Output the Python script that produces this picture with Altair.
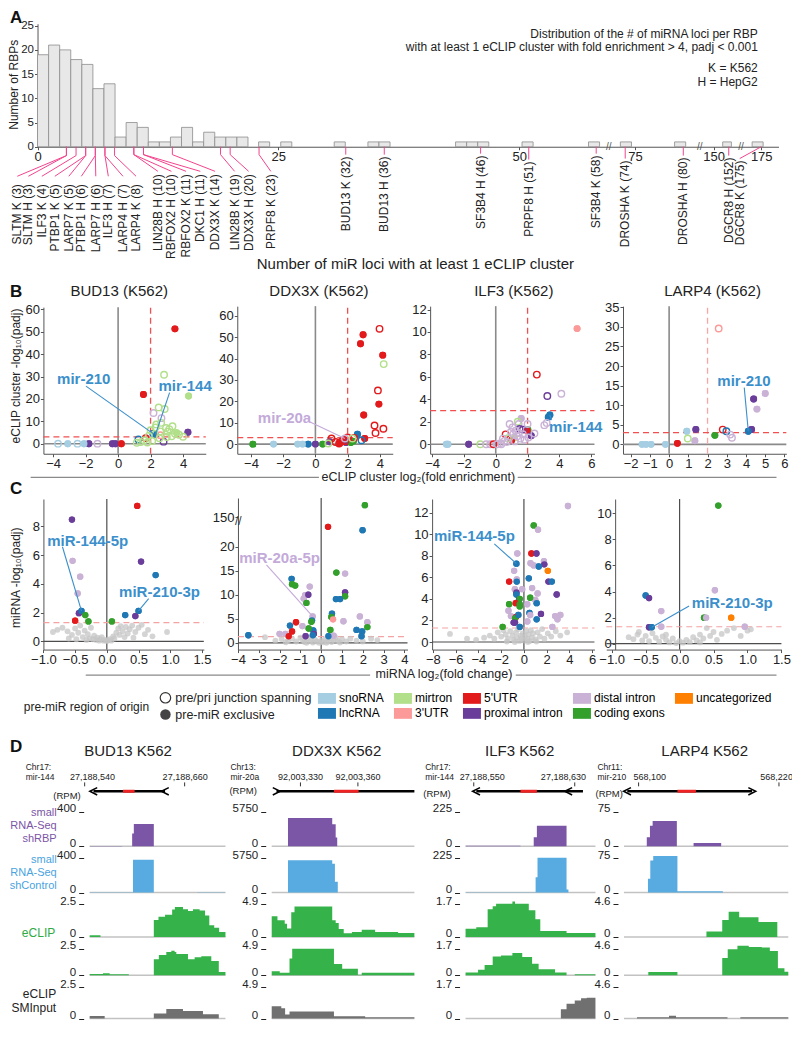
import altair as alt
import pandas as pd

FONT = "Liberation Sans"
W, H = 784, 1016
S = 0.984


def X(x):
    return round((x - 4) * S, 2)


def Y(y):
    return round((y - 4) * S, 2)


ONE = pd.DataFrame({"k": [0]})

# ---------------- categories (pre-miR region of origin)
CAT_CODES = ["sno", "mir", "5u", "dis", "unc", "lnc", "3u", "pro", "cod"]
CAT_NAMES = ["snoRNA", "mirtron", "5'UTR", "distal intron", "uncategorized",
             "lncRNA", "3'UTR", "proximal intron", "coding exons"]
CAT_COLORS = ["#a6cee3", "#b2df8a", "#e31a1c", "#cab2d6", "#ff7f00",
              "#1f78b4", "#fb9a99", "#6a3d9a", "#33a02c"]
CODE2NAME = dict(zip(CAT_CODES, CAT_NAMES))
CSCALE = alt.Scale(domain=CAT_NAMES, range=CAT_COLORS)

# ---------------- panel A data
a_bar_left = [0, 1.15, 2.3, 3.45, 4.6, 5.75, 6.9, 8.05, 9.2, 10.35, 11.5, 12.65, 13.8,
              14.95, 16.1, 17.25, 18.4, 19.55, 20.7, 22.95, 25.25, 30.8, 34.3, 35.45,
              43.4, 44.55, 45.7, 50.3, 57.2, 73.5, 79.1, 151.2, 174.05]
a_bar_count = [19, 21, 20, 18, 17, 12, 13, 2, 5, 4, 1, 1, 2, 4, 1, 3, 2, 2, 2,
               1, 1, 1, 1, 1, 1, 1, 1, 1, 1, 1, 1, 1, 1]
BIN_W = 1.15
a_break_domain = [0, 59.2, 72.4, 81.6, 148.3, 153.5, 173.0, 176.8]
a_break_px = [34, 613.5, 615.5, 706, 708, 748, 750, 787]
a_tick_values = [0, 25, 50, 75, 150, 175]
a_labels = ["SLTM K (3)", "SLTM H (3)", "ILF3 K (4)", "PTBP1 K (5)", "LARP7 K (5)",
            "PTBP1 H (6)", "LARP7 H (6)", "ILF3 H (7)", "LARP4 H (7)", "LARP4 K (8)",
            "LIN28B H (10)", "RBFOX2 H (10)", "RBFOX2 K (11)", "DKC1 H (11)",
            "DDX3X K (14)", "LIN28B K (19)", "DDX3X H (20)", "PRPF8 K (23)",
            "BUD13 K (32)", "BUD13 H (36)", "SF3B4 H (46)", "PRPF8 H (51)",
            "SF3B4 K (58)", "DROSHA K (74)", "DROSHA H (80)", "DGCR8 H (152)",
            "DGCR8 K (175)"]
a_label_value = [3, 3, 4, 5, 5, 6, 6, 7, 7, 8, 10, 10, 11, 11, 14, 19, 20, 23, 32, 36,
                 46, 51, 58, 74, 80, 152, 175]
a_label_slot = [-2.1, -0.95, 0.45, 1.8, 3.25, 4.55, 6.05, 7.35, 8.87, 10.23, 12.5,
                13.9, 15.42, 16.9, 18.43, 20.46, 21.92, 24.22, 32, 36, 46, 51, 58, 74,
                80, 152, 153.45]
a_label_kink = [9] * 10 + [8] * 8 + [8, 8] + [7, 13, 7, 12, 9, 9, 0]
a_label_end = [30] * 10 + [25] * 8 + [8, 8] + [7, 13, 7, 12, 9, 9, 12]
a_label_top = [38] * 10 + [28] * 8 + [10, 10] + [9, 15, 9, 14, 11, 11, 14]

# ---------------- panel B data: (log2 FE, -log10 padj, region, open=junction spanning)
b1_pts = [(3.5, 51.3, "5u", 0), (1.56, 22.0, "5u", 0), (4.34, 21.3, "mir", 0),
          (4.3, 5.1, "pro", 0), (3.6, 4.9, "mir", 0), (-1.8, 0, "pro", 0),
          (-0.16, 0, "pro", 0), (0.2, 0, "5u", 0), (-0.35, 0, "pro", 0),
          (-3.7, 0, "sno", 1), (-3.1, 0, "sno", 0), (-2.5, 0, "sno", 1), (-2.1, 0, "sno", 0),
          (-1.27, 0, "dis", 1), (2.3, 4.1, "lnc", 0), (2.16, 4.5, "lnc", 1),
          (1.25, 1.9, "lnc", 1), (2.8, 0.9, "pro", 1), (2.18, 13.7, "dis", 1),
          (2.67, 11.4, "dis", 1), (1.7, 2.5, "5u", 1), (2.6, 3.8, "3u", 1),
          (2.83, 30.8, "mir", 1), (2.5, 16.2, "mir", 1), (2.87, 15.5, "mir", 1),
          (2.65, 9.3, "mir", 1), (2.35, 8.6, "mir", 1), (2.95, 7.0, "mir", 1),
          (3.15, 6.5, "mir", 1), (3.35, 7.8, "mir", 1), (3.5, 4.6, "mir", 1),
          (3.75, 4.0, "mir", 1), (4.0, 3.1, "mir", 1), (3.05, 5.3, "mir", 1),
          (2.6, 5.5, "mir", 1), (1.9, 3.6, "mir", 1), (1.6, 1.5, "mir", 1),
          (1.4, 0.7, "mir", 1), (1.8, 0.5, "mir", 1), (2.1, 1.2, "mir", 1),
          (2.55, 2.4, "mir", 1), (3.0, 3.0, "mir", 1), (3.3, 3.3, "mir", 1),
          (1.15, 0.4, "mir", 1), (2.3, 7.2, "mir", 1), (2.0, 6.0, "mir", 1)]
b2_pts = [(2.96, 51.1, "5u", 0), (2.8, 46.9, "5u", 0), (4.18, 41.6, "5u", 0),
          (3.94, 18.7, "5u", 0), (3.0, 13.6, "5u", 0), (3.06, 2.6, "5u", 0),
          (1.8, 2.1, "5u", 0), (2.2, 1.4, "5u", 0), (1.5, 0.5, "5u", 0),
          (3.98, 53.9, "5u", 1), (3.88, 25.1, "5u", 1), (3.67, 8.7, "5u", 1),
          (4.22, 7.2, "5u", 1), (3.73, 5.2, "5u", 1), (1.0, 2.6, "5u", 1),
          (2.0, 3.1, "5u", 1), (1.6, 1.1, "5u", 1), (1.47, 0.3, "5u", 1),
          (1.85, 1.4, "5u", 1), (1.25, 1.0, "5u", 1), (2.4, 2.9, "5u", 1),
          (4.24, 37.4, "mir", 1), (2.3, 2.6, "mir", 1), (0.8, 0.3, "mir", 1),
          (2.61, 4.6, "lnc", 0), (-0.45, 0, "lnc", 0), (2.86, 1.8, "lnc", 1),
          (0.88, 1.1, "pro", 0), (1.9, 0.8, "pro", 0), (0.0, 0, "pro", 0),
          (1.83, 2.6, "dis", 1), (2.2, 0.8, "cod", 0), (-3.88, 0, "cod", 0),
          (0.45, 0, "cod", 0), (2.35, 1.3, "cod", 0), (-2.6, 0, "sno", 0),
          (-1.1, 0, "sno", 0), (-0.8, 0, "sno", 0)]
b3_pts = [(5.11, 10.3, "3u", 0), (2.58, 6.2, "5u", 1), (3.24, 4.3, "pro", 1),
          (4.12, 4.5, "dis", 1), (3.4, 2.6, "lnc", 0), (3.3, 2.4, "lnc", 0),
          (3.05, 1.7, "dis", 1), (3.2, 1.9, "dis", 1), (1.6, 2.3, "dis", 0),
          (1.38, 2.0, "mir", 1), (1.44, 1.8, "dis", 1), (0.87, 1.8, "dis", 1),
          (1.71, 1.3, "pro", 1), (1.5, 1.35, "pro", 1), (2.02, 1.26, "cod", 0),
          (1.98, 1.2, "5u", 0), (2.0, 1.8, "dis", 1), (2.23, 0.76, "pro", 0),
          (2.43, 0.95, "dis", 1), (2.05, 0.6, "dis", 1), (0.62, 0.88, "5u", 1),
          (0.76, 0.53, "mir", 1), (1.18, 0.58, "mir", 0), (1.0, 0.35, "5u", 0),
          (0.95, 1.1, "dis", 1), (1.1, 0.9, "dis", 1), (1.25, 1.2, "dis", 1),
          (1.35, 0.7, "dis", 1), (1.55, 0.5, "dis", 1), (1.7, 0.9, "dis", 1),
          (0.55, 0.3, "dis", 1), (0.3, 0.1, "dis", 1), (0.7, 0.2, "dis", 1),
          (1.2, 0.25, "dis", 1), (1.45, 1.0, "dis", 1), (1.8, 0.4, "dis", 1),
          (0.45, 0.5, "dis", 1), (1.05, 1.5, "dis", 1), (-3.1, 0, "sno", 0),
          (-3.0, 0, "sno", 0), (-1.7, 0, "pro", 0), (-0.97, 0, "mir", 1),
          (-0.6, 0, "dis", 1), (-0.35, 0, "dis", 1), (-0.14, 0, "5u", 1),
          (0.1, 0, "dis", 1), (0.35, 0, "dis", 1)]
b4_pts = [(2.58, 29.6, "3u", 1), (5.0, 13.0, "dis", 0), (4.4, 11.6, "pro", 0),
          (4.57, 9.0, "dis", 0), (4.29, 3.8, "pro", 0), (4.12, 3.35, "lnc", 0),
          (2.79, 3.77, "5u", 1), (2.98, 3.35, "lnc", 1), (3.18, 2.5, "dis", 1),
          (3.27, 1.7, "dis", 1), (1.39, 3.8, "pro", 0), (0.92, 3.35, "sno", 0),
          (0.97, 1.5, "mir", 1), (1.34, 0.9, "dis", 0), (2.38, 2.3, "cod", 0),
          (0.43, 0.25, "5u", 0), (-1.41, 0, "sno", 0), (-1.2, 0, "sno", 0),
          (-0.94, 0, "sno", 0), (-0.19, 0, "sno", 0)]

# ---------------- panel C data: (log2 FC, -log10 padj, region) significant; gray = not
c1_pts = [(-0.55, 8.47, "pro"), (0.48, 9.42, "5u"), (-0.54, 5.6, "dis"), (-0.42, 4.5, "dis"),
          (-0.46, 3.33, "dis"), (-0.44, 1.96, "pro"), (-0.40, 2.12, "lnc"),
          (-0.34, 1.83, "cod"), (-0.29, 1.39, "cod"), (-0.50, 1.44, "5u"),
          (0.54, 5.55, "pro"), (0.77, 4.61, "lnc"), (0.50, 2.12, "lnc"),
          (0.29, 1.83, "lnc"), (0.45, 1.76, "pro"), (0.08, 1.39, "cod")]
c1_gray = [(-0.85, 0.65), (-0.78, 0.8), (-0.7, 0.95), (-0.62, 0.7), (-0.55, 0.45),
           (-0.5, 0.9), (-0.45, 0.6), (-0.42, 1.1), (-0.38, 0.3), (-0.35, 0.75),
           (-0.3, 0.5), (-0.27, 0.2), (-0.25, 0.95), (-0.22, 0.15), (-0.2, 0.4),
           (-0.17, 0.1), (-0.15, 0.25), (-0.12, 0.05), (-0.1, 0.15), (-0.08, 0.3),
           (-0.05, 0.05), (-0.03, 0.1), (0.0, 0.02), (0.02, 0.08), (0.05, 0.15),
           (0.07, 0.05), (0.1, 0.35), (0.12, 0.2), (0.15, 0.6), (0.18, 0.9),
           (0.2, 0.45), (0.22, 1.05), (0.25, 0.7), (0.28, 0.3), (0.3, 1.0),
           (0.33, 0.55), (0.36, 0.85), (0.4, 1.1), (0.42, 0.25), (0.45, 0.65),
           (0.5, 0.95), (0.55, 1.15), (0.6, 0.5), (0.65, 0.8), (0.72, 0.35),
           (0.95, 0.65), (-0.6, 0.2), (-0.48, 0.15), (-0.32, 0.1)]
c2_pts = [(0.33, 24.1, "5u"), (1.99, 23.4, "lnc"), (2.1, 155, "cod"), (-1.42, 13.3, "lnc"),
          (-1.4, 12.2, "cod"), (-1.25, 11.9, "cod"), (-0.55, 11.7, "dis"),
          (-0.77, 9.9, "dis"), (-0.84, 9.2, "dis"), (-0.62, 10.0, "pro"),
          (-0.71, 8.3, "cod"), (-0.41, 5.5, "dis"), (-0.44, 4.7, "lnc"),
          (-0.47, 4.4, "cod"), (-1.5, 3.6, "lnc"), (-1.21, 4.3, "5u"), (-1.4, 2.4, "5u"),
          (-0.9, 3.5, "dis"), (-0.38, 2.6, "lnc"), (-2.0, 1.9, "dis"), (-1.72, 1.9, "dis"),
          (-1.56, 1.4, "5u"), (-0.35, 1.9, "pro"), (-0.4, 1.6, "lnc"), (-3.5, 1.6, "lnc"),
          (0.73, 14.6, "cod"), (1.15, 14.4, "dis"), (1.15, 10.5, "pro"),
          (1.15, 9.7, "cod"), (0.71, 9.1, "lnc"), (0.91, 9.1, "lnc"), (1.86, 5.5, "dis"),
          (2.22, 4.3, "dis"), (0.52, 6.1, "lnc"), (0.49, 5.4, "cod"), (0.57, 4.9, "3u"),
          (1.07, 4.5, "dis"), (1.7, 2.7, "lnc"), (1.97, 2.4, "lnc"), (2.22, 3.3, "cod"),
          (0.44, 2.7, "cod"), (1.94, 1.4, "lnc"), (0.6, 1.5, "dis"), (0.35, 1.4, "lnc"),
          (-0.75, 1.4, "pro"), (-0.6, 3.0, "cod")]
c2_gray = [(-2.7, 1.2), (-2.2, 0.5), (-1.9, 0.8), (-1.6, 0.4), (-1.4, 0.9), (-1.2, 0.3),
           (-1.0, 1.1), (-0.9, 0.6), (-0.8, 0.2), (-0.6, 0.9), (-0.5, 0.4), (-0.4, 0.1),
           (-0.3, 0.7), (-0.2, 0.3), (-0.1, 0.05), (0.0, 0.5), (0.1, 0.15), (0.2, 0.8),
           (0.3, 0.3), (0.4, 1.0), (0.5, 0.2), (0.6, 0.6), (0.7, 1.1), (0.8, 0.4),
           (1.0, 0.8), (1.2, 0.3), (1.4, 0.9), (1.7, 0.5), (2.0, 0.3), (2.4, 0.9),
           (2.7, 0.6), (-0.7, 0.05), (0.25, 0.05), (0.9, 0.1), (-1.7, 0.15)]
c3_pts = [(0.86, 10.8, "cod"), (1.24, 10.4, "dis"), (3.87, 12.6, "dis"), (-0.66, 7.26, "lnc"),
          (-0.58, 8.2, "dis"), (0.66, 8.2, "5u"), (1.1, 8.2, "pro"), (1.76, 7.5, "dis"),
          (1.79, 7.2, "pro"), (0.58, 7.3, "dis"), (0.86, 7.1, "dis"), (1.3, 7.0, "lnc"),
          (2.1, 6.6, "unc"), (-0.86, 6.6, "dis"), (-0.63, 5.8, "dis"), (-0.63, 5.6, "lnc"),
          (-1.3, 5.6, "5u"), (0.43, 5.9, "lnc"), (2.16, 5.6, "pro"), (2.45, 5.6, "lnc"),
          (-0.8, 4.9, "dis"), (-0.15, 4.9, "dis"), (-0.66, 4.6, "pro"), (-0.66, 4.4, "lnc"),
          (0.72, 5.0, "dis"), (1.0, 3.9, "dis"), (1.2, 4.5, "dis"), (2.88, 4.4, "pro"),
          (0.55, 4.1, "cod"), (-0.43, 3.95, "pro"), (-0.37, 4.0, "cod"), (-0.72, 3.6, "5u"),
          (-1.3, 3.5, "cod"), (-0.37, 3.5, "cod"), (-0.37, 3.3, "cod"), (1.12, 3.6, "lnc"),
          (0.29, 3.5, "dis"), (2.74, 2.4, "dis"), (3.2, 2.5, "dis"), (2.95, 2.1, "dis"),
          (-1.36, 2.9, "dis"), (-1.15, 2.4, "dis"), (0.49, 2.7, "lnc"), (1.5, 2.6, "pro"),
          (-0.72, 2.3, "5u"), (-0.78, 2.2, "cod"), (-0.49, 2.5, "lnc"), (1.12, 2.1, "lnc"),
          (0.55, 2.5, "dis"), (-0.78, 1.8, "pro"), (-0.37, 1.4, "lnc"), (-1.87, 1.4, "cod"),
          (-0.9, 1.8, "pro"), (2.5, 1.4, "dis"), (0.3, 1.9, "dis")]
c3_gray = [(-6.5, 0.75), (-5.0, 0.3), (-4.2, 0.2), (-3.5, 0.4), (-3.0, 0.6), (-2.6, 0.3),
           (-2.3, 0.9), (-2.0, 0.5), (-1.8, 1.1), (-1.6, 0.7), (-1.4, 0.3), (-1.2, 1.0),
           (-1.0, 0.6), (-0.9, 0.2), (-0.7, 0.9), (-0.6, 0.4), (-0.5, 1.2), (-0.4, 0.1),
           (-0.3, 0.6), (-0.2, 0.3), (-0.1, 0.8), (0.0, 0.15), (0.1, 0.5), (0.2, 1.0),
           (0.3, 0.3), (0.4, 0.7), (0.5, 0.1), (0.6, 1.1), (0.7, 0.4), (0.8, 0.8),
           (1.0, 0.25), (1.2, 0.9), (1.4, 0.5), (1.6, 1.2), (1.8, 0.3), (2.1, 0.8),
           (2.4, 0.5), (2.8, 1.0), (3.2, 0.6), (3.8, 0.9), (-0.8, 0.0), (0.35, 0.0),
           (1.1, 0.05), (-1.5, 0.05)]
c4_pts = [(0.57, 10.6, "cod"), (-0.50, 3.7, "lnc"), (-0.45, 3.5, "pro"), (0.52, 4.1, "dis"),
          (-0.27, 2.5, "dis"), (0.36, 2.0, "cod"), (0.39, 2.0, "dis"), (0.76, 2.0, "unc"),
          (0.96, 1.3, "dis"), (-0.45, 1.26, "pro"), (-0.41, 1.26, "lnc"), (-0.27, 1.3, "dis")]
c4_gray = [(-0.75, 0.5), (-0.68, 0.35), (-0.6, 0.9), (-0.55, 0.25), (-0.5, 0.6),
           (-0.45, 0.2), (-0.4, 0.8), (-0.35, 0.45), (-0.3, 0.15), (-0.25, 0.55),
           (-0.2, 0.3), (-0.15, 0.1), (-0.1, 0.4), (-0.05, 0.05), (0.0, 0.2),
           (0.05, 0.08), (0.1, 0.3), (0.15, 0.12), (0.2, 0.5), (0.25, 0.25), (0.3, 0.7),
           (0.35, 0.4), (0.4, 1.2), (0.45, 0.6), (0.5, 0.9), (0.55, 0.3), (0.62, 0.75),
           (0.7, 1.0), (0.8, 1.2), (0.9, 0.6), (1.0, 1.0), (1.05, 1.1), (-0.62, 0.7),
           (-0.2, 0.7), (0.3, 0.1)]

# ---------------- panel D data: (start bp, end bp, signal) relative to first coordinate label
d1_shrbp = [(6, 45, 5), (45, 57, 0), (57, 59, 150), (59, 83, 260), (83, 169, 0)]
d1_shctl = [(6, 58, 3), (58, 83, 382), (83, 135, 0), (135, 169, 3)]
d1_clip1 = [(6, 19, 0.13), (19, 83, 0), (83, 88.6, 1.3), (88.6, 96.5, 1.55), (96.5, 105, 1.7),
            (105, 108.3, 2.1), (108.3, 118, 2.3), (118, 124, 2.12), (124, 130, 2.0),
            (130, 138, 2.12), (138, 144.5, 2.03), (144.5, 149.6, 1.65), (149.6, 155.5, 0.9),
            (155.5, 161.4, 0.7), (161.4, 169, 0.38)]
d1_clip2 = [(6, 22, 0.12), (22, 30, 0.2), (30, 53, 0.1), (53, 83, 0), (83, 89, 1.5),
            (89, 98, 1.9), (98, 104, 2.2), (104, 108, 2.3), (108, 110, 2.2), (110, 124, 2.0),
            (124, 132, 1.5), (132, 140, 1.7), (140, 152, 1.8), (152, 161, 1.35), (161, 169, 0.3)]
d1_input = [(6, 24, 0.2), (24, 83, 0), (83, 98, 0.4), (98, 118, 0.75), (118, 142, 0.6),
            (142, 161, 0.35), (161, 169, 0)]
d2_shrbp = [(-15, -6.5, 40), (-6.5, 16.6, 4740), (16.6, 18.4, 3700), (18.4, 19.2, 1500),
            (19.2, 59.5, 40)]
d2_shctl = [(-15, -6.5, 40), (-6.5, 16.6, 5390), (16.6, 18, 4800), (18, 19.5, 1800),
            (19.5, 59.5, 40)]
d2_clip1 = [(-15, -12, 3.1), (-12, -8.2, 2.5), (-8.2, -7, 2.0), (-7, -4.8, 1.25),
            (-4.8, -3.1, 3.7), (-3.1, 16.6, 4.57), (16.6, 18.4, 2.5), (18.4, 20, 2.1),
            (20, 22.6, 1.2), (22.6, 26.9, 0.54), (26.9, 32, 0.75), (32, 39, 1.08),
            (39, 51, 0.75), (51, 59.5, 0.6)]
d2_clip2 = [(-15, -10.8, 0.75), (-10.8, -5.7, 0.45), (-5.7, -4.3, 3.1), (-4.3, 17.5, 4.9),
            (17.5, 21.8, 2.1), (21.8, 30, 1.2), (30, 32, 0.1), (32, 59.5, 0.45)]
d2_input = [(-15, -10, 1.9), (-10, -8, 1.6), (-8, -5.7, 0.65), (-5.7, 17.5, 1.1),
            (17.5, 33.8, 0.35), (33.8, 59.5, 0.2)]
d3_shrbp = [(-6.5, 37, 4), (37, 47.5, 0), (47.5, 50, 60), (50, 73.5, 135), (73.5, 96.4, 0)]
d3_shctl = [(-6.5, 49, 2), (49, 50.5, 100), (50.5, 73.5, 228), (73.5, 75, 20), (75, 96.4, 0)]
d3_clip1 = [(-6.5, 2, 0.43), (2, 11, 0.5), (11, 15, 1.45), (15, 17.7, 1.6), (17.7, 30.6, 1.73),
            (30.6, 32.7, 1.85), (32.7, 43.6, 1.73), (43.6, 48.8, 1.4), (48.8, 52.7, 0.93),
            (52.7, 73.5, 0.31), (73.5, 96.4, 0.2)]
d3_clip2 = [(-6.5, 3.4, 0.17), (3.4, 8.6, 0.35), (8.6, 15, 0.65), (15, 21.6, 1.2),
            (21.6, 30.6, 1.26), (30.6, 38.4, 1.43), (38.4, 46.2, 1.17), (46.2, 51.4, 0.73),
            (51.4, 64.4, 0.38), (64.4, 73.5, 0.17), (73.5, 80, 0), (80, 96.4, 0.07)]
d3_input = [(-6.5, 69, 0), (69, 73.5, 0.5), (73.5, 80, 0.8), (80, 85, 0.97), (85, 89.5, 1.1),
            (89.5, 96.4, 1.12)]
d4_shrbp = [(-12.5, 7, 0), (7, 9.7, 20), (9.7, 12, 45), (12, 32.7, 55), (32.7, 47, 0),
            (47, 70.6, 7.5), (70.6, 128, 0)]
d4_shctl = [(-12.5, 8, 0), (8, 10, 30), (10, 12.5, 70), (12.5, 33.2, 80), (33.2, 72, 3),
            (72, 128, 0)]
d4_clip1 = [(-12.5, 58, 0), (58, 71.5, 0.77), (71.5, 77, 2.4), (77, 86, 3.56),
            (86, 102.5, 2.8), (102.5, 118.6, 2.1), (118.6, 128, 0)]
d4_clip2 = [(-12.5, 8.3, 0), (8.3, 33.2, 0.58), (33.2, 71.5, 0), (71.5, 76.2, 3.0),
            (76.2, 84.5, 4.5), (84.5, 94.2, 5.1), (94.2, 105.3, 4.9), (105.3, 112.2, 4.8),
            (112.2, 119.1, 4.2), (119.1, 124.7, 1.2), (124.7, 128, 0.6)]
d4_input = [(-12.5, -1.4, 0), (-1.4, 26, 0.2), (26, 32, 0.4), (32, 76, 0.2), (76, 87, 0),
            (87, 128, 0.2)]

D_COLS = [
    dict(title="BUD13 K562", tx=126, chr="Chr17:", mir="mir-144", chr_x=22, rpm=(64, 805),
         dom=(6, 169), px=(87, 225), ticks=[0, 120], tick_labels=["27,188,540", "27,188,660"],
         label_pos=[9.4, 120.6], gene=(10.6, 96.5), red=(46, 60), arrows_l=[10.6, 96.5],
         arrows_r=[], maxes=[400, 400, 2.5, 2.5, 2.5],
         tracks=[d1_shrbp, d1_shctl, d1_clip1, d1_clip2, d1_input]),
    dict(title="DDX3X K562", tx=338, chr="Chr13:", mir="mir-20a", chr_x=230, rpm=(243, 800),
         dom=(-15, 59.5), px=(272, 417), ticks=[0, 30], tick_labels=["92,003,330", "92,003,360"],
         label_pos=[0, 30], gene=(-12.5, 59.5), red=(17.5, 30.4), arrows_l=[],
         arrows_r=[-12.5], maxes=[5750, 5750, 4.9, 4.9, 4.9],
         tracks=[d2_shrbp, d2_shctl, d2_clip1, d2_clip2, d2_input]),
    dict(title="ILF3 K562", tx=524, chr="Chr17:", mir="mir-144", chr_x=428, rpm=(440, 803),
         dom=(-6.5, 96.4), px=(469, 601), ticks=[0, 80], tick_labels=["27,188,550", "27,188,630"],
         label_pos=[6.8, 71], gene=(2, 86.5), red=(37, 50), arrows_l=[2, 75], arrows_r=[],
         maxes=[225, 225, 1.7, 1.7, 1.7],
         tracks=[d3_shrbp, d3_shctl, d3_clip1, d3_clip2, d3_input]),
    dict(title="LARP4 K562", tx=712, chr="Chr11:", mir="mir-210", chr_x=603, rpm=(615, 803),
         dom=(-12.5, 128), px=(630, 797), ticks=[0, 120], tick_labels=["568,100", "568,220"],
         label_pos=[9.5, 118], gene=(-9.7, 97), red=(33.2, 49), arrows_l=[-9.7], arrows_r=[97],
         maxes=[75, 75, 4.6, 4.6, 4.6],
         tracks=[d4_shrbp, d4_shctl, d4_clip1, d4_clip2, d4_input]),
]
TRACK_TOP = [821, 868, 915, 960, 999]
TRACK_BOT = [856, 903, 948, 987, 1031]
TRACK_COLORS = ["#7b55a6", "#57abe0", "#36b24a", "#36b24a", "#707070"]
NUM = ".4~r"


# ---------------- helpers
def txt(s, x, y, size=12, color="#222", align="center", baseline="middle", angle=0,
        weight="normal"):
    mk = dict(text=s, fontSize=size, color=color, align=align, baseline=baseline,
              fontWeight=weight, font=FONT)
    if angle:
        mk["angle"] = angle
    return alt.Chart(ONE).mark_text(**mk).encode(x=alt.value(X(x)), y=alt.value(Y(y)))


def hline(x0, x1, y, color="#8a8a8a", width=1.3):
    return alt.Chart(ONE).mark_rule(color=color, strokeWidth=width).encode(
        x=alt.value(X(x0)), x2=alt.value(X(x1)), y=alt.value(Y(y)))


def sc(dom, px, axis):
    f = X if axis == "x" else Y
    return alt.Scale(domain=list(dom), range=[f(v) for v in px], nice=False, zero=False)


def axb(yref, values, fmt=NUM, size=13):
    return alt.Axis(orient="bottom", offset=Y(yref) - H, values=values, format=fmt, title=None,
                    labelFontSize=size, tickSize=3, labelPadding=1, labelFlush=False,
                    labelOverlap=False)


def axl(xref, values, fmt=NUM, size=13):
    return alt.Axis(orient="left", offset=-X(xref), values=values, format=fmt, title=None,
                    labelFontSize=size, tickSize=3, labelPadding=1, labelOverlap=False)


def seg(rows, xs, ys, color, xax, yax, width=1.2, dash=None):
    df = pd.DataFrame(rows, columns=["x", "y", "x2", "y2"])
    mk = dict(color=color, strokeWidth=width)
    if dash:
        mk["strokeDash"] = dash
    return alt.Chart(df).mark_rule(**mk).encode(
        x=alt.X("x:Q", scale=xs, axis=xax), y=alt.Y("y:Q", scale=ys, axis=yax),
        x2="x2:Q", y2="y2:Q")


LEG = alt.Legend(orient="none", legendX=X(319), legendY=Y(696.5), direction="horizontal",
                 columns=5, title=None, symbolType="M-1,-0.6H1V0.6H-1Z", symbolSize=324,
                 symbolStrokeWidth=0, labelFontSize=12, labelFont=FONT, columnPadding=10,
                 rowPadding=0, labelOffset=3, symbolOpacity=1, labelLimit=200)


def points(df, xs, ys, filled, size, xax, yax):
    if filled:
        m = alt.Chart(df).mark_circle(size=size, opacity=1)
    else:
        m = alt.Chart(df).mark_point(size=size, filled=False, opacity=1, strokeWidth=1.4)
    return m.encode(x=alt.X("x:Q", scale=xs, axis=xax), y=alt.Y("y:Q", scale=ys, axis=yax),
                    color=alt.Color("cat:N", scale=CSCALE, legend=LEG))


def b_panel(pts, xd, xp, yd, yp, xticks, yticks, vdash="#f05050", leaders=()):
    xs = sc(xd, xp, "x")
    ys = sc(yd, yp, "y")
    xax = axb(yp[0], xticks)
    yax = axl(xp[0], yticks)
    df = pd.DataFrame(pts, columns=["x", "y", "code", "open"])
    df["cat"] = df["code"].map(CODE2NAME)
    layers = [points(df[df["open"] == 0], xs, ys, True, 48, xax, yax),
              seg([(0, yd[0], 0, yd[1]), (xd[0], 0, xd[1], 0)], xs, ys, "#8a8a8a", xax, yax, 1.6),
              seg([(2, yd[0], 2, yd[1])], xs, ys, vdash, xax, yax, 1.3, dash=[6, 4]),
              seg([(xd[0], 3, xd[1], 3)], xs, ys, "#f05050", xax, yax, 1.3, dash=[6, 4]),
              points(df[df["open"] == 0], xs, ys, True, 48, xax, yax),
              points(df[df["open"] == 1], xs, ys, False, 42, xax, yax)]
    for rows, color in leaders:
        layers.append(seg(rows, xs, ys, color, xax, yax, 1.1))
    return alt.layer(*layers)


def c_panel(pts, gray, xd, xp, yd, yp, xticks, yticks, xfmt, yaxis_x, leaders=(),
            extra_y=None):
    xs = sc(xd, xp, "x")
    ys = sc(yd, yp, "y") if extra_y is None else extra_y
    xax = axb(656, xticks, xfmt)
    yax = axl(yaxis_x, yticks)
    y0, y1 = (yd[0], yd[-1])
    df = pd.DataFrame(pts, columns=["x", "y", "code"])
    df["cat"] = df["code"].map(CODE2NAME)
    gdf = pd.DataFrame(gray, columns=["x", "y"])
    layers = [points(df, xs, ys, True, 40, xax, yax),
              seg([(0, y0, 0, y1), (xd[0], 0, xd[1], 0)], xs, ys, "#4d4d4d", xax, yax, 1.2),
              seg([(xd[0], 1.3, xd[1], 1.3)], xs, ys, "#f4a3a3", xax, yax, 1.2, dash=[6, 4]),
              alt.Chart(gdf).mark_circle(size=34, color="#c6c6c6", opacity=0.75).encode(
                  x=alt.X("x:Q", scale=xs, axis=xax), y=alt.Y("y:Q", scale=ys, axis=yax)),
              points(df, xs, ys, True, 40, xax, yax)]
    for rows, color in leaders:
        layers.append(seg(rows, xs, ys, color, xax, yax, 1.1))
    return alt.layer(*layers)


BLUE_T = "#3b8fcb"
LPUR_T = "#c3aad9"
layers = []

# ================= Panel A
a_xs = sc(a_break_domain, a_break_px, "x")
a_ys = sc([0, 25.4], [145, 20], "y")
bars_df = pd.DataFrame({"left": a_bar_left, "n": a_bar_count})
bars_df["right"] = bars_df["left"] + BIN_W
layers.append(alt.Chart(bars_df).mark_rect(fill="#e8e8e8", stroke="#8c8c8c", strokeWidth=0.8).encode(
    x=alt.X("left:Q", scale=a_xs, axis=axb(145, a_tick_values, "d")),
    x2="right:Q",
    y=alt.Y("n:Q", scale=a_ys, axis=axl(34, [0, 5, 10, 15, 20, 25], "d", 11.5)),
    y2=alt.datum(0)))

a_ly = sc([0, 100], [145, 245], "y")
line_rows = []
for i, (v, sl, kk, ee) in enumerate(zip(a_label_value, a_label_slot, a_label_kink, a_label_end)):
    line_rows += [(i, 0, v, 0), (i, 1, v, kk), (i, 2, sl, ee)]
ldf = pd.DataFrame(line_rows, columns=["id", "k", "x", "y"])
tdf = pd.DataFrame({"x": a_label_slot, "y": a_label_top, "lab": a_labels})
layers.append(alt.layer(
    alt.Chart(ldf).mark_line(color="#f2448e", strokeWidth=1).encode(
        x=alt.X("x:Q", scale=a_xs, axis=None), y=alt.Y("y:Q", scale=a_ly, axis=None),
        detail="id:N", order="k:Q"),
    alt.Chart(tdf).mark_text(angle=270, align="right", baseline="middle", fontSize=12,
                             color="#222", font=FONT).encode(
        x=alt.X("x:Q", scale=a_xs, axis=None), y=alt.Y("y:Q", scale=a_ly, axis=None),
        text="lab:N")))
for bx in (614.5, 707, 749):
    layers.append(txt("//", bx, 145, 10, "#555"))
layers += [
    txt("A", 6, 14, 17, "#111", align="left", weight="bold"),
    txt("Number of RBPs", 9.6, 82, 12, angle=270),
    txt("Number of miR loci with at least 1 eCLIP cluster", 418, 264, 15),
    txt("Distribution of the # of miRNA loci per RBP", 766, 30, 12, align="right"),
    txt("with at least 1 eCLIP cluster with fold enrichment > 4, padj < 0.001", 766, 44, 12,
        align="right"),
    txt("K = K562", 766, 65, 12, align="right"),
    txt("H = HepG2", 766, 79, 12, align="right"),
]

# ================= Panel B
layers.append(b_panel(b1_pts, (-4.6, 5.4), (40, 205), (-4.5, 61), (457, 308),
                      [-4, -2, 0, 2, 4], [0, 10, 20, 30, 40, 50, 60],
                      leaders=[([(-1.98, 25.7, 2.16, 4.5), (3.17, 22.8, 2.3, 4.1)], BLUE_T)]))
layers.append(b_panel(b2_pts, (-4.85, 4.8), (237, 395), (-4.5, 64.5), (457, 307),
                      [-4, -2, 0, 2, 4], [0, 10, 20, 30, 40, 50, 60],
                      leaders=[([(-0.3, 10.2, 1.83, 2.6)], LPUR_T)]))
layers.append(b_panel(b3_pts, (-4.12, 6.2), (433, 600), (-0.85, 12.3), (457, 307),
                      [-4, -2, 0, 2, 4, 6], [0, 2, 4, 6, 8, 10, 12],
                      leaders=[([(3.5, 2.14, 3.4, 2.6)], BLUE_T)]))
layers.append(b_panel(b4_pts, (-2.4, 6.1), (629, 795), (-2.4, 35.3), (457, 307),
                      [-2, -1, 0, 1, 2, 3, 4, 5, 6], [0, 5, 10, 15, 20, 25, 30, 35],
                      vdash="#f7a5a5",
                      leaders=[([(3.91, 14.5, 4.12, 3.35)], BLUE_T)]))
layers += [
    txt("B", 6, 293, 17, "#111", align="left", weight="bold"),
    txt("BUD13 (K562)", 117, 292, 15), txt("DDX3X (K562)", 320, 292, 15),
    txt("ILF3 (K562)", 518, 292, 15), txt("LARP4 (K562)", 720, 292, 15),
    txt("mir-210", 81, 381, 15, BLUE_T, weight="bold"),
    txt("mir-144", 184, 388, 15, BLUE_T, weight="bold"),
    txt("mir-20a", 285, 421, 15, LPUR_T, weight="bold"),
    txt("mir-144", 581, 430, 15, BLUE_T, weight="bold"),
    txt("mir-210", 752, 383, 15, BLUE_T, weight="bold"),
    txt("eCLIP cluster -log\u2081\u2080(padj)", 12, 378, 12, angle=270),
    hline(27, 320, 481), hline(522, 785, 481),
    txt("eCLIP cluster log\u2082(fold enrichment)", 421, 481, 12.5),
]

# ================= Panel C
layers.append(c_panel(c1_pts, c1_gray, (-1.0, 1.53), (40, 203), (-0.57, 9.9), (656, 503),
                      [-1.0, -0.5, 0, 0.5, 1.0, 1.5], [0, 2, 4, 6, 8], ".1f", 40,
                      leaders=[([(-0.70, 6.58, -0.40, 2.12), (0.66, 2.97, 0.5, 2.12)], BLUE_T)]))
c2_ys = sc([-1.37, 24.6, 148.5, 158], [656, 528.8, 525, 502], "y")
layers.append(c_panel(c2_pts, c2_gray, (-4.0, 4.15), (237.7, 410), (-1.37, 158), (656, 502),
                      [-4, -3, -2, -1, 0, 1, 2, 3, 4], [0, 5, 10, 15, 20, 150], NUM, 237.7,
                      leaders=[([(-2.63, 16.2, -0.41, 5.5)], LPUR_T)], extra_y=c2_ys))
layers.append(c_panel(c3_pts, c3_gray, (-8.07, 6.2), (435, 600), (-0.7, 13.25), (656, 503),
                      [-8, -6, -4, -2, 0, 2, 4, 6], [0, 2, 4, 6, 8, 10, 12], NUM, 435,
                      leaders=[([(-2.6, 9.1, -0.66, 7.26)], BLUE_T)]))
layers.append(c_panel(c4_pts, c4_gray, (-1.08, 1.5), (612, 790), (-0.45, 11.1), (656, 503),
                      [-1.0, -0.5, 0, 0.5, 1.0, 1.5], [0, 2, 4, 6, 8, 10], ".1f", 621,
                      leaders=[([(0.14, 2.9, -0.41, 1.26)], BLUE_T)]))
layers += [
    txt("C", 6, 493, 17, "#111", align="left", weight="bold"),
    txt("//", 238, 525, 12, "#333"),
    txt("miR-144-5p", 85, 546, 15, BLUE_T, weight="bold"),
    txt("miR-210-3p", 158, 597, 15, BLUE_T, weight="bold"),
    txt("miR-20a-5p", 280, 563, 15, LPUR_T, weight="bold"),
    txt("miR-144-5p", 478, 541, 15, BLUE_T, weight="bold"),
    txt("miR-210-3p", 740, 609, 15, BLUE_T, weight="bold"),
    txt("miRNA -log\u2081\u2080(padj)", 12, 583, 12, angle=270),
    hline(83, 372, 682), hline(520, 785, 682),
    txt("miRNA log\u2082(fold change)", 447, 681, 12.5),
]

# ================= legend (manual part)
layers += [
    txt("pre-miR region of origin", 20, 714, 12, align="left"),
    alt.Chart(ONE).mark_point(shape="circle", size=110, filled=False, color="#333",
                              strokeWidth=1.2, opacity=1).encode(
        x=alt.value(X(164)), y=alt.value(Y(705))),
    alt.Chart(ONE).mark_point(shape="circle", size=110, filled=True, color="#444",
                              opacity=1).encode(
        x=alt.value(X(164)), y=alt.value(Y(722))),
    txt("pre/pri junction spanning", 174, 705, 12.5, align="left"),
    txt("pre-miR exclusive", 174, 722, 12.5, align="left"),
]

# ================= Panel D
layers.append(txt("D", 6, 755, 17, "#111", align="left", weight="bold"))
CHEV_L = "M1,-1L-1,0L1,1"
CHEV_R = "M-1,-1L1,0L-1,1"
for col in D_COLS:
    xs = sc(col["dom"], col["px"], "x")
    hl = []
    g = pd.DataFrame({"s": [col["gene"][0]], "e": [col["gene"][1]]})
    hl.append(alt.Chart(g).mark_rule(color="black", strokeWidth=2.6).encode(
        x=alt.X("s:Q", scale=xs, axis=None), x2="e:Q", y=alt.value(Y(800))))
    r = pd.DataFrame({"s": [col["red"][0]], "e": [col["red"][1]]})
    hl.append(alt.Chart(r).mark_rule(color="#ee2222", strokeWidth=3).encode(
        x=alt.X("s:Q", scale=xs, axis=None), x2="e:Q", y=alt.value(Y(800))))
    for pos_list, shp in ((col["arrows_l"], CHEV_L), (col["arrows_r"], CHEV_R)):
        if pos_list:
            hl.append(alt.Chart(pd.DataFrame({"p": pos_list})).mark_point(
                shape=shp, filled=False, color="black", strokeWidth=1.5, size=55,
                opacity=1).encode(x=alt.X("p:Q", scale=xs, axis=None), y=alt.value(Y(800))))
    tk = pd.DataFrame({"p": col["ticks"]})
    hl.append(alt.Chart(tk).mark_rule(color="#333", strokeWidth=1).encode(
        x=alt.X("p:Q", scale=xs, axis=None), y=alt.value(Y(791)), y2=alt.value(Y(795))))
    tl = pd.DataFrame({"p": col["label_pos"], "lab": col["tick_labels"]})
    hl.append(alt.Chart(tl).mark_text(fontSize=9, color="#222", font=FONT).encode(
        x=alt.X("p:Q", scale=xs, axis=None), y=alt.value(Y(786)), text="lab:N"))
    layers.append(alt.layer(*hl))
    layers += [
        txt(col["title"], col["tx"], 759, 15),
        txt(col["chr"], col["chr_x"], 775, 8.5, align="left"),
        txt(col["mir"], col["chr_x"], 786, 8.5, align="left"),
        txt("(RPM)", col["rpm"][0], col["rpm"][1], 9.5),
    ]
    for ti, segs in enumerate(col["tracks"]):
        vmax = col["maxes"][ti]
        rows = [(s, v) for s, e, v in segs] + [(segs[-1][1], segs[-1][2])]
        df = pd.DataFrame(rows, columns=["pos", "val"])
        ys = alt.Scale(domain=[0, vmax], range=[Y(TRACK_BOT[ti]), Y(TRACK_TOP[ti])],
                       nice=False, zero=False)
        yax = alt.Axis(orient="left", offset=-(X(col["px"][0]) - 6), values=[0, vmax],
                       format=NUM, title=None, domain=False, tickSize=5, labelFontSize=11.5,
                       labelPadding=3, labelBaseline="alphabetic", tickColor="#222",
                       labelOverlap=False)
        base = alt.Chart(pd.DataFrame({"a": [segs[0][0]], "b": [segs[-1][1]]})).mark_rule(
            color="#c2c2c2", strokeWidth=1.5).encode(
            x=alt.X("a:Q", scale=xs, axis=None), x2="b:Q",
            y=alt.YDatum(0, scale=ys, axis=yax))
        area = alt.Chart(df).mark_area(color=TRACK_COLORS[ti], interpolate="step-after",
                                       opacity=1).encode(
            x=alt.X("pos:Q", scale=xs, axis=None),
            y=alt.Y("val:Q", scale=ys, axis=yax, stack=None), y2=alt.datum(0))
        layers.append(alt.layer(base, area))

PUR, BLU, GRN = "#7b55a6", "#4aa3df", "#2eab45"
TL = 11
layers += [
    txt("small", 53.5, 822, TL, PUR, align="right"),
    txt("RNA-Seq", 53.5, 835, TL, PUR, align="right"),
    txt("shRBP", 53.5, 848, TL, PUR, align="right"),
    txt("small", 53.5, 870, TL, BLU, align="right"),
    txt("RNA-Seq", 53.5, 883, TL, BLU, align="right"),
    txt("shControl", 53.5, 896, TL, BLU, align="right"),
    txt("eCLIP", 52, 944, 12, GRN, align="right"),
    txt("eCLIP", 53, 1006, 12, "#222", align="right"),
    txt("SMInput", 53, 1020, 12, "#222", align="right"),
]

chart = alt.layer(*layers).resolve_scale(x="independent", y="independent").resolve_axis(
    x="independent", y="independent").properties(
    width=W, height=H, padding=0, autosize=alt.AutoSizeParams(type="none")
).configure_view(stroke=None).configure_axis(
    labelFont=FONT, grid=False, domainColor="#555", tickColor="#555", labelColor="#222"
).configure_legend(labelFont=FONT)

chart.save("out.html", embed_options={"renderer": "svg", "actions": False})
